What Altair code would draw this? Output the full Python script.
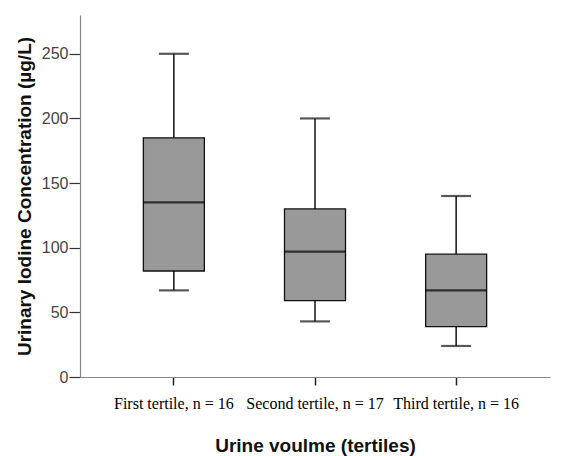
import altair as alt
import pandas as pd

categories = ["First tertile, n = 16", "Second tertile, n = 17", "Third tertile, n = 16"]
lower = [67, 43, 24]
q1 = [82, 59, 39]
median = [135, 97, 67]
q3 = [185, 130, 95]
upper = [250, 200, 140]

df = pd.DataFrame({"cat": categories, "lower": lower, "q1": q1,
                   "median": median, "q3": q3, "upper": upper})

xenc = alt.X("cat:N", sort=categories,
             scale=alt.Scale(paddingInner=0, paddingOuter=0.165),
             axis=alt.Axis(title="Urine voulme (tertiles)", labelAngle=0,
                           labelFont="Liberation Serif", labelFontSize=16,
                           labelColor="#000", labelPadding=10,
                           tickColor="#222", tickSize=8, tickWidth=1.5,
                           domainColor="#888", domainWidth=1.2,
                           titleFont="Liberation Sans", titleFontSize=19,
                           titleFontWeight="bold", titleColor="#111",
                           titlePadding=25, grid=False))
yscale = alt.Scale(domain=[0, 280], nice=False)
yaxis = alt.Axis(title="Urinary Iodine Concentration (µg/L)",
                 values=[0, 50, 100, 150, 200, 250],
                 labelFont="Liberation Sans", labelFontSize=16, labelColor="#444",
                 labelPadding=1, tickColor="#333", tickSize=11, tickWidth=1.2,
                 domainColor="#888", domainWidth=1.2,
                 titleFont="Liberation Sans", titleFontSize=19,
                 titleFontWeight="bold", titleColor="#111", titlePadding=7,
                 grid=False)

base = alt.Chart(df)

whisker = base.mark_rule(color="#111", strokeWidth=1.5).encode(
    x=xenc, y=alt.Y("lower:Q", scale=yscale, axis=yaxis), y2="upper:Q")
box = base.mark_bar(size=61, color="#999999", stroke="#111", strokeWidth=1.3).encode(
    x=xenc, y=alt.Y("q1:Q", scale=yscale, axis=yaxis), y2="q3:Q")
med = base.mark_tick(size=61, thickness=2.2, color="#000").encode(
    x=xenc, y=alt.Y("median:Q", scale=yscale, axis=yaxis))
cap_lo = base.mark_tick(size=30, thickness=2.2, color="#111").encode(
    x=xenc, y=alt.Y("lower:Q", scale=yscale, axis=yaxis))
cap_hi = base.mark_tick(size=30, thickness=2.2, color="#111").encode(
    x=xenc, y=alt.Y("upper:Q", scale=yscale, axis=yaxis))

chart = alt.layer(whisker, box, med, cap_lo, cap_hi).properties(
    width=470, height=362,
    autosize=alt.AutoSizeParams(type="none"),
    padding={"left": 72, "top": 7, "right": 20, "bottom": 79},
    background="white",
).configure_view(stroke=None)

chart.save("out.html", embed_options={"renderer": "svg", "actions": False})
